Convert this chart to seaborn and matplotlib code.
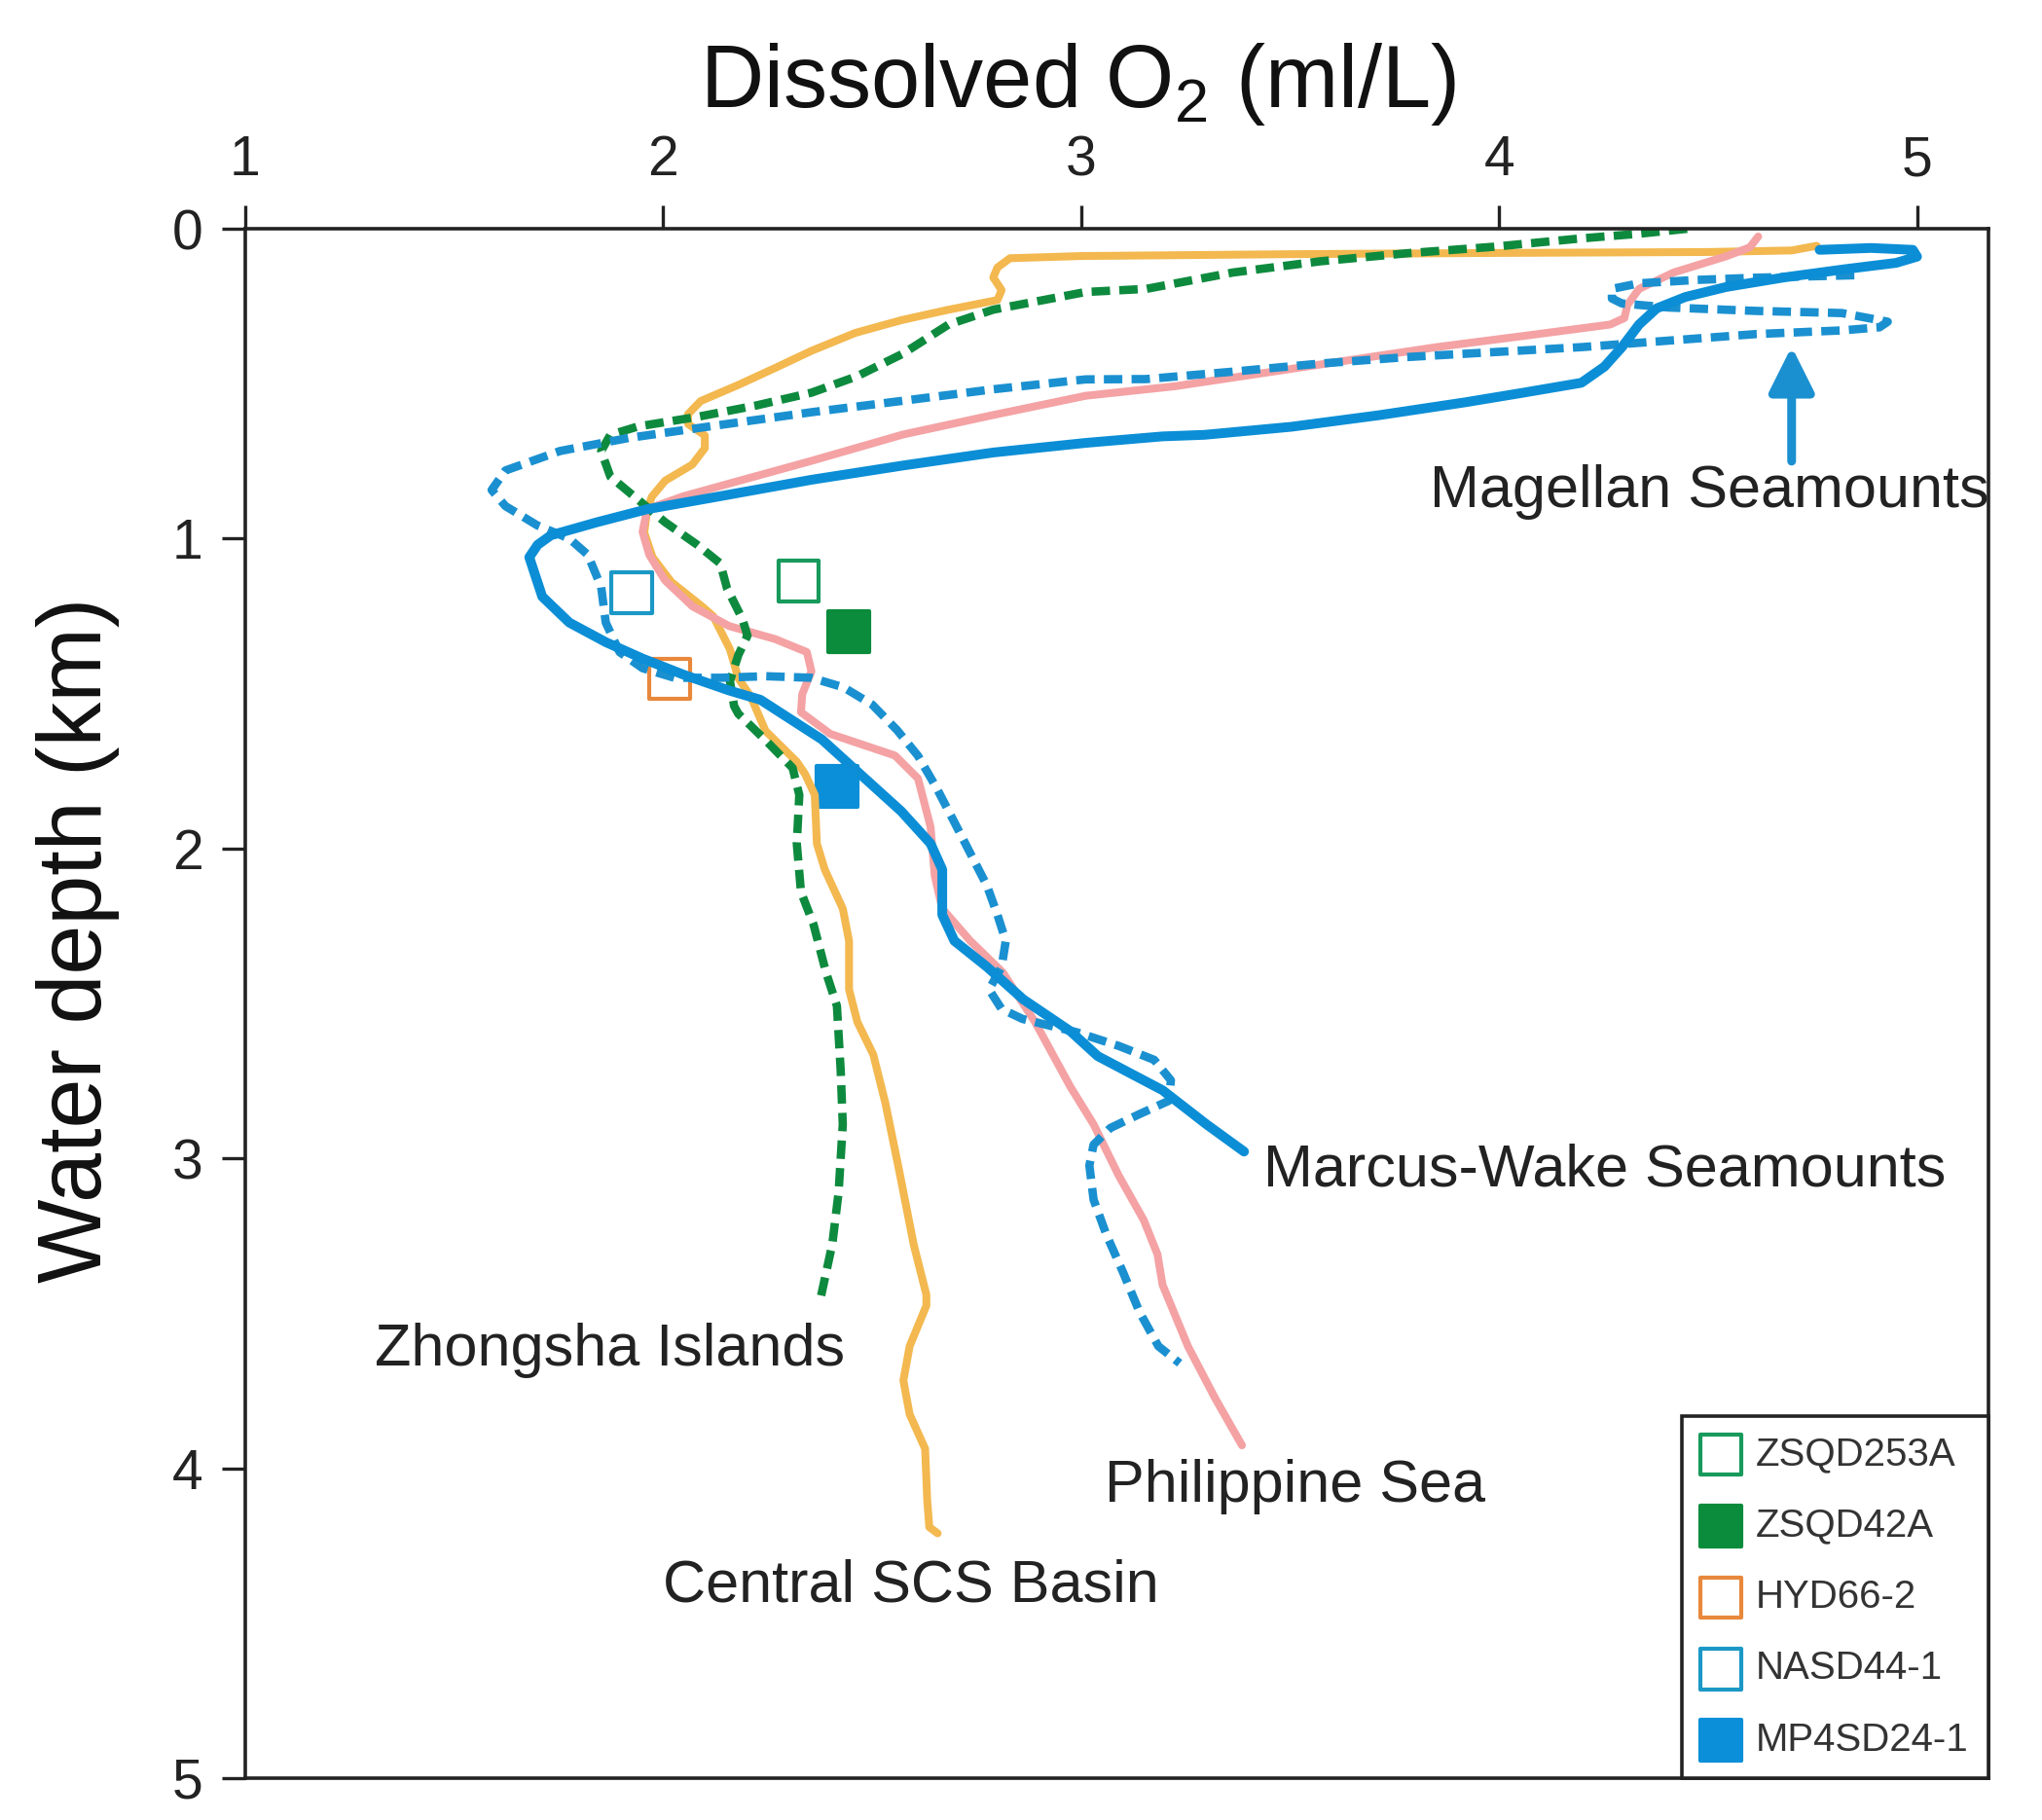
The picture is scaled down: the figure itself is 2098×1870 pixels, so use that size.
# Dissolved O2 depth profiles - recreated with seaborn
import matplotlib
matplotlib.use("Agg")
import matplotlib.pyplot as plt
import seaborn as sns

sns.set_style("ticks")
plt.rcParams['font.family'] = ['Liberation Sans', 'DejaVu Sans']
plt.rcParams['mathtext.fontset'] = 'custom'
plt.rcParams['mathtext.rm'] = 'Liberation Sans'

# -------------------------------
# profile data (O2 ml/L, depth km)
# -------------------------------
scs_o2 = [4.76, 4.70, 4.50, 4.00, 3.50, 3.00, 2.83, 2.80, 2.79, 2.81, 2.80, 2.68, 2.57,
          2.46, 2.355, 2.27, 2.18, 2.09, 2.06, 2.06, 2.10, 2.10, 2.07, 2.005, 1.973, 1.962,
          1.955, 1.975, 2.02, 2.09, 2.12, 2.16, 2.18, 2.21, 2.245, 2.32, 2.34, 2.363, 2.368,
          2.387, 2.43, 2.445, 2.445, 2.465, 2.503, 2.532, 2.565, 2.60, 2.63, 2.63, 2.59,
          2.575, 2.59, 2.627, 2.632, 2.637, 2.657]
scs_depth = [0.055, 0.07, 0.075, 0.078, 0.082, 0.088, 0.095, 0.125, 0.157, 0.198, 0.23, 0.262,
             0.295, 0.336, 0.394, 0.448, 0.504, 0.556, 0.598, 0.63, 0.667, 0.708, 0.761, 0.813,
             0.865, 0.908, 0.98, 1.06, 1.14, 1.215, 1.25, 1.357, 1.45, 1.51, 1.62, 1.72, 1.76,
             1.827, 1.984, 2.068, 2.194, 2.298, 2.455, 2.56, 2.665, 2.822, 3.04, 3.28, 3.44,
             3.475, 3.606, 3.717, 3.826, 3.937, 4.103, 4.19, 4.21]

zs_o2 = [4.45, 4.335, 4.197, 3.988, 3.78, 3.572, 3.364, 3.156, 3.011, 2.79, 2.683, 2.574,
         2.464, 2.355, 2.224, 2.082, 1.94, 1.874, 1.852, 1.874, 1.94, 2.005, 2.082, 2.137,
         2.153, 2.19, 2.202, 2.18, 2.16, 2.17, 2.18, 2.245, 2.31, 2.326, 2.32, 2.33, 2.36,
         2.39, 2.416, 2.425, 2.43, 2.42, 2.405, 2.375]
zs_depth = [0.0, 0.016, 0.031, 0.058, 0.079, 0.105, 0.141, 0.194, 0.204, 0.261, 0.309, 0.403,
            0.476, 0.529, 0.57, 0.607, 0.638, 0.665, 0.717, 0.80, 0.874, 0.947, 1.02, 1.08,
            1.16, 1.26, 1.313, 1.376, 1.46, 1.54, 1.565, 1.65, 1.74, 1.827, 1.984, 2.14,
            2.245, 2.40, 2.508, 2.716, 2.89, 3.11, 3.276, 3.463]

ph_o2 = [4.62, 4.60, 4.543, 4.418, 4.335, 4.307, 4.30, 4.266, 4.058, 3.85, 3.642, 3.434,
         3.226, 3.011, 2.79, 2.574, 2.355, 2.191, 2.049, 1.962, 1.951, 1.967, 2.005, 2.071,
         2.158, 2.268, 2.344, 2.355, 2.333, 2.33, 2.40, 2.555, 2.61, 2.64, 2.65, 2.668, 2.735,
         2.813, 2.89, 2.975, 3.03, 3.09, 3.15, 3.183, 3.195, 3.256, 3.32, 3.385]
ph_depth = [0.025, 0.06, 0.089, 0.141, 0.194, 0.246, 0.288, 0.309, 0.346, 0.382, 0.424, 0.466,
            0.508, 0.539, 0.601, 0.664, 0.749, 0.81, 0.863, 0.905, 0.978, 1.052, 1.135, 1.219,
            1.282, 1.324, 1.366, 1.428, 1.502, 1.56, 1.63, 1.70, 1.774, 1.93, 2.088, 2.194,
            2.298, 2.40, 2.56, 2.77, 2.89, 3.055, 3.199, 3.31, 3.408, 3.607, 3.772, 3.926]

mw_o2 = [4.767, 4.89, 4.99, 5.0, 4.95, 4.83, 4.682, 4.543, 4.446, 4.377, 4.335, 4.294,
         4.252, 4.197, 4.058, 3.919, 3.711, 3.503, 3.295, 3.195, 3.011, 2.79, 2.574, 2.355,
         2.137, 1.962, 1.842, 1.732, 1.70, 1.68, 1.711, 1.776, 1.863, 1.951, 2.049, 2.158,
         2.233, 2.38, 2.475, 2.57, 2.64, 2.668, 2.668, 2.697, 2.775, 2.862, 2.975, 3.04,
         3.195, 3.30, 3.39]
mw_depth = [0.068, 0.062, 0.068, 0.09, 0.11, 0.13, 0.157, 0.188, 0.22, 0.257, 0.309, 0.382,
            0.445, 0.497, 0.529, 0.56, 0.602, 0.639, 0.665, 0.67, 0.691, 0.722, 0.764, 0.81,
            0.863, 0.905, 0.947, 0.989, 1.02, 1.06, 1.187, 1.271, 1.334, 1.387, 1.439, 1.49,
            1.52, 1.648, 1.764, 1.88, 1.984, 2.068, 2.214, 2.298, 2.382, 2.487, 2.59, 2.67,
            2.78, 2.89, 2.978]

mg_o2 = [4.85, 4.613, 4.474, 4.335, 4.27, 4.27, 4.294, 4.405, 4.613, 4.82, 4.93, 4.91,
         4.82, 4.613, 4.405, 4.197, 3.988, 3.78, 3.572, 3.364, 3.156, 3.011, 2.79, 2.574,
         2.355, 2.137, 1.918, 1.754, 1.623, 1.59, 1.623, 1.699, 1.776, 1.82, 1.852, 1.863,
         1.896, 1.951, 2.027, 2.137, 2.246, 2.355, 2.432, 2.50, 2.56, 2.61, 2.655, 2.695,
         2.735, 2.775, 2.80, 2.82, 2.81, 2.78, 2.81, 2.86, 2.99, 3.09, 3.175, 3.215, 3.21,
         3.14, 3.07, 3.03, 3.02, 3.03, 3.06, 3.10, 3.14, 3.185, 3.236]
mg_depth = [0.15, 0.158, 0.165, 0.176, 0.194, 0.225, 0.241, 0.254, 0.265, 0.272, 0.30, 0.318,
            0.328, 0.34, 0.361, 0.382, 0.398, 0.414, 0.435, 0.461, 0.485, 0.486, 0.518, 0.555,
            0.592, 0.633, 0.675, 0.717, 0.78, 0.843, 0.895, 0.957, 1.0, 1.052, 1.156, 1.271,
            1.366, 1.418, 1.449, 1.449, 1.444, 1.449, 1.48, 1.535, 1.618, 1.701, 1.806, 1.91,
            2.015, 2.12, 2.214, 2.298, 2.382, 2.455, 2.518, 2.55, 2.593, 2.637, 2.682, 2.748,
            2.814, 2.857, 2.902, 2.956, 3.023, 3.133, 3.244, 3.366, 3.496, 3.606, 3.661]

# -------------------------------
# sample sites
# -------------------------------
site_names = ['ZSQD253A', 'ZSQD42A', 'HYD66-2', 'NASD44-1', 'MP4SD24-1']
site_o2 = [2.324, 2.445, 2.016, 1.925, 2.417]
site_depth = [1.136, 1.30, 1.452, 1.174, 1.80]
site_colors = ['#189a5c', '#0b8c3c', '#e8883c', '#1c98c6', '#0a8fd8']
site_filled = [False, True, False, False, True]

# -------------------------------
# figure
# -------------------------------
fig = plt.figure(figsize=(20.98, 18.70), dpi=100)
ax = fig.add_axes([0.120, 0.0230, 0.8538, 0.8513])

for o2, dep, name, col, filled in zip(site_o2, site_depth, site_names, site_colors, site_filled):
    sns.scatterplot(x=[o2], y=[dep], marker='s', s=900,
                    color=col if filled else 'none', edgecolor=col, linewidth=3.0,
                    label=name, zorder=1.5, ax=ax)

line_kw = dict(sort=False, estimator=None, solid_capstyle='round',
               solid_joinstyle='round', ax=ax)
sns.lineplot(x=scs_o2, y=scs_depth, color='#f3b84f', linewidth=5.8, **line_kw)
sns.lineplot(x=ph_o2, y=ph_depth, color='#f4a2a4', linewidth=5.8, **line_kw)
sns.lineplot(x=zs_o2, y=zs_depth, color='#0e8a3e', linewidth=6.2,
             linestyle=(0, (2.2, 1.1)), **line_kw)
sns.lineplot(x=mg_o2, y=mg_depth, color='#1a90d0', linewidth=6.2,
             linestyle=(0, (2.2, 1.1)), **line_kw)
sns.lineplot(x=mw_o2, y=mw_depth, color='#0b8ed6', linewidth=7.2, **line_kw)

# -------------------------------
# axes styling
# -------------------------------
ax.set_xlim(1, 5.171)
ax.set_ylim(5, 0)
ax.set_xticks([1, 2, 3, 4, 5])
ax.set_yticks([0, 1, 2, 3, 4, 5])
ax.xaxis.tick_top()
ax.xaxis.set_label_position('top')
ax.tick_params(axis='both', direction='out', length=17, width=2.4, labelsize=41,
               colors='#222222')
ax.tick_params(axis='x', pad=14)
ax.tick_params(axis='y', pad=14)
for sp in ax.spines.values():
    sp.set_visible(True)
    sp.set_linewidth(2.6)
    sp.set_color('#222222')

ax.set_xlabel('Dissolved O$_2$ (ml/L)', fontsize=65, color='#111111')
ax.xaxis.set_label_coords(0.478, 1.0785)
ax.set_ylabel('Water depth (km)', fontsize=66, color='#111111')
ax.yaxis.set_label_coords(-0.072, 0.541)

# -------------------------------
# labels on the curves
# -------------------------------
txt = dict(fontsize=44, color='#222222', va='center', ha='left')
ax.text(3.835, 0.85, 'Magellan Seamounts', **txt)
ax.text(3.436, 3.04, 'Marcus-Wake Seamounts', **txt)
ax.text(1.31, 3.62, 'Zhongsha Islands', **txt)
ax.text(3.056, 4.06, 'Philippine Sea', **txt)
ax.text(2.0, 4.38, 'Central SCS Basin', **txt)
ax.annotate('', xy=(4.70, 0.38), xytext=(4.70, 0.75),
            arrowprops=dict(arrowstyle='-|>', color='#1a90d0', lw=6.5,
                            mutation_scale=70, shrinkA=0, shrinkB=0))

# -------------------------------
# legend
# -------------------------------
leg = ax.legend(loc='lower right', bbox_to_anchor=(1, 0), borderaxespad=0,
                frameon=True, fancybox=False, fontsize=29, handlelength=1.0,
                handletextpad=0.4, labelspacing=0.88, borderpad=0.5,
                edgecolor='#222222', framealpha=1, scatterpoints=1)
leg.get_frame().set_linewidth(2.6)
for t in leg.get_texts():
    t.set_color('#333333')

fig.savefig('out.png', dpi=100)
